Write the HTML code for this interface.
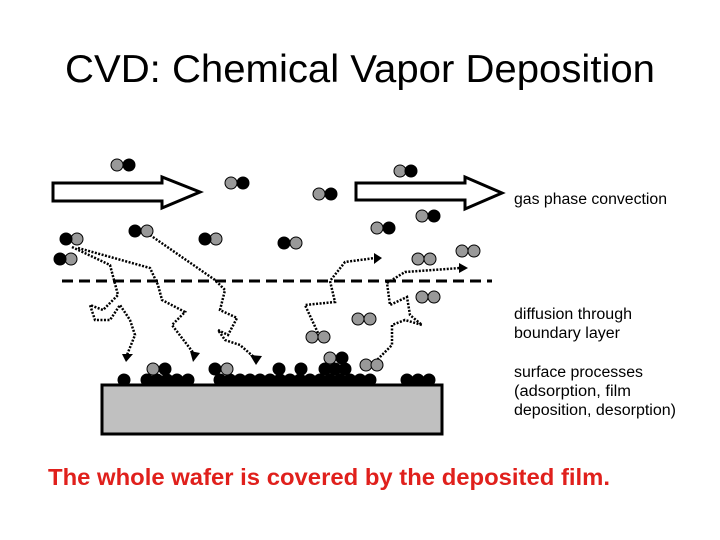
<!DOCTYPE html>
<html><head><style>body{margin:0;background:#fff}svg{display:block}</style></head><body>
<svg width="720" height="540" xmlns="http://www.w3.org/2000/svg" font-family="Liberation Sans, sans-serif">
<rect width="720" height="540" fill="#fff"/>
<text x="65" y="82" font-size="39" textLength="590" lengthAdjust="spacingAndGlyphs">CVD: Chemical Vapor Deposition</text>
<g fill="#fff" stroke="#000" stroke-width="3">
<polygon points="53,183 162,183 162,177 200,192 162,208 162,201 53,201"/>
<polygon points="356,183 465,183 465,177 502,193 465,209 465,200 356,200"/>
</g>
<line x1="62" y1="281" x2="492" y2="281" stroke="#000" stroke-width="3" stroke-dasharray="11,6"/>
<rect x="102" y="385" width="340" height="49" fill="#c0c0c0" stroke="#000" stroke-width="3"/>
<g fill="none" stroke="#000" stroke-width="2.5" stroke-dasharray="2,1.5">
<polyline points="72,247 110,265 118,295 103,310 90,305 95,320 110,320 120,305 130,320 135,335 127,355"/>
<polyline points="78,248 150,268 158,285 162,300 185,312 172,325 195,355"/>
<polyline points="150,235 215,280 225,290 220,310 237,318 228,335 218,330 225,340 240,345 255,358"/>
<polyline points="318,333 305,305 335,302 330,281 345,262 375,258"/>
<polyline points="375,362 392,345 392,325 405,320 422,325 410,315 407,297 390,305 387,283 405,272 460,268"/>
</g>
<g fill="#000">
<polygon points="122,354 133,354 126,362"/>
<polygon points="190,351 200,353 193,362"/>
<polygon points="250,355 262,356 256,365"/>
<polygon points="374,253 382,258 374,264"/>
<polygon points="459,263 468,268 459,273"/>
</g>
<g stroke="#000" stroke-width="1">
<g fill="#999">
<circle cx="117" cy="165" r="6"/><circle cx="231" cy="183" r="6"/><circle cx="77" cy="239" r="6"/><circle cx="71" cy="259" r="6"/><circle cx="147" cy="231" r="6"/><circle cx="216" cy="239" r="6"/><circle cx="296" cy="243" r="6"/><circle cx="319" cy="194" r="6"/><circle cx="400" cy="171" r="6"/><circle cx="377" cy="228" r="6"/><circle cx="422" cy="216" r="6"/>
<circle cx="418" cy="259" r="6"/><circle cx="430" cy="259" r="6"/><circle cx="462" cy="251" r="6"/><circle cx="474" cy="251" r="6"/><circle cx="422" cy="297" r="6"/><circle cx="434" cy="297" r="6"/><circle cx="358" cy="319" r="6"/><circle cx="370" cy="319" r="6"/><circle cx="312" cy="337" r="6"/><circle cx="324" cy="337" r="6"/><circle cx="366" cy="365" r="6"/><circle cx="377" cy="365" r="6"/>
</g>
<g fill="#000">
<circle cx="129" cy="165" r="6"/><circle cx="243" cy="183" r="6"/><circle cx="66" cy="239" r="6"/><circle cx="60" cy="259" r="6"/><circle cx="135" cy="231" r="6"/><circle cx="205" cy="239" r="6"/><circle cx="284" cy="243" r="6"/><circle cx="331" cy="194" r="6"/><circle cx="411" cy="171" r="6"/><circle cx="389" cy="228" r="6"/><circle cx="434" cy="216" r="6"/>
<circle cx="124" cy="380" r="6"/><circle cx="147" cy="380" r="6"/><circle cx="157" cy="380" r="6"/><circle cx="167" cy="380" r="6"/><circle cx="177" cy="380" r="6"/><circle cx="188" cy="380" r="6"/>
<circle cx="220" cy="380" r="6"/><circle cx="230" cy="380" r="6"/><circle cx="240" cy="380" r="6"/><circle cx="250" cy="380" r="6"/><circle cx="260" cy="380" r="6"/><circle cx="270" cy="380" r="6"/><circle cx="280" cy="380" r="6"/><circle cx="290" cy="380" r="6"/><circle cx="300" cy="380" r="6"/><circle cx="310" cy="380" r="6"/><circle cx="320" cy="380" r="6"/><circle cx="330" cy="380" r="6"/><circle cx="340" cy="380" r="6"/><circle cx="350" cy="380" r="6"/><circle cx="360" cy="380" r="6"/><circle cx="370" cy="380" r="6"/>
<circle cx="407" cy="380" r="6"/><circle cx="418" cy="380" r="6"/><circle cx="429" cy="380" r="6"/>
<circle cx="279" cy="369" r="6"/><circle cx="301" cy="369" r="6"/><circle cx="325" cy="369" r="6"/><circle cx="335" cy="369" r="6"/><circle cx="345" cy="369" r="6"/>
<circle cx="342" cy="358" r="6"/><circle cx="165" cy="369" r="6"/><circle cx="215" cy="369" r="6"/>
</g>
<g fill="#999"><circle cx="330" cy="358" r="6"/><circle cx="153" cy="369" r="6"/><circle cx="227" cy="369" r="6"/></g>
</g>
<g font-size="15.5">
<text x="514" y="204" textLength="153" lengthAdjust="spacingAndGlyphs">gas phase convection</text>
<text x="514" y="319" textLength="118" lengthAdjust="spacingAndGlyphs">diffusion through</text>
<text x="514" y="338" textLength="106" lengthAdjust="spacingAndGlyphs">boundary layer</text>
<text x="514" y="377" textLength="129" lengthAdjust="spacingAndGlyphs">surface processes</text>
<text x="514" y="396" textLength="117" lengthAdjust="spacingAndGlyphs">(adsorption, film</text>
<text x="514" y="415" textLength="162" lengthAdjust="spacingAndGlyphs">deposition, desorption)</text>
</g>
<text x="48" y="485" font-size="23" font-weight="bold" fill="#e0201c" textLength="562" lengthAdjust="spacingAndGlyphs">The whole wafer is covered by the deposited film.</text>
</svg>
</body></html>
